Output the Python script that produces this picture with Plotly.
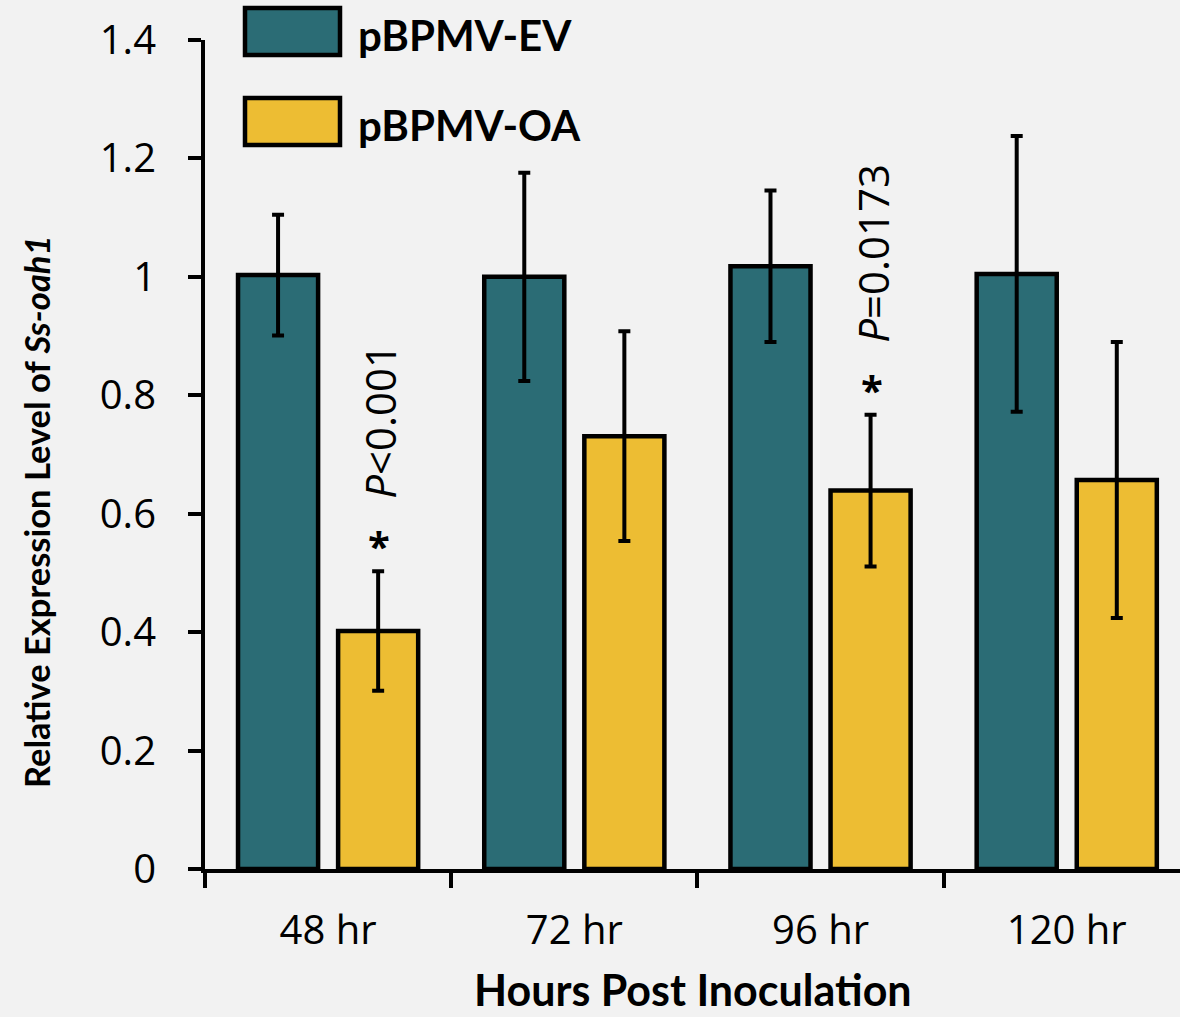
import plotly.graph_objects as go

categories = ["48 hr", "72 hr", "96 hr", "120 hr"]
ev_values = [1.003, 1.000, 1.018, 1.005]
ev_errors = [0.102, 0.176, 0.128, 0.233]
oa_values = [0.402, 0.731, 0.639, 0.657]
oa_errors = [0.101, 0.177, 0.128, 0.233]
series_names = ["pBPMV-EV", "pBPMV-OA"]
sig_labels = ["<i>P</i><0.001", None, "<i>P</i>=0.0173", None]
y_ticks = [0, 0.2, 0.4, 0.6, 0.8, 1.0, 1.2, 1.4]
y_ticktext = ["0", "0.2", "0.4", "0.6", "0.8", "1", "1.2", "1.4"]

TEAL = "#2B6C75"
YELLOW = "#EDBD33"
BG = "#F2F2F2"
TICKFONT = "Open Sans, sans-serif"
TITLEFONT = "Lato, Open Sans, sans-serif"

W, H = 1180, 1017
L, R, T, B = 205, 0, 40, 148
PW, PH = W - L - R, H - T - B


def px_x(px):
    return (px - L) / PW


def px_y(py):
    return (H - B - py) / PH


fig = go.Figure()
for name, vals, errs, col in [(series_names[0], ev_values, ev_errors, TEAL),
                              (series_names[1], oa_values, oa_errors, YELLOW)]:
    fig.add_trace(go.Bar(
        x=categories, y=vals, name=name,
        marker=dict(color=col, line=dict(color="black", width=4.5)),
        error_y=dict(type="data", array=errs, color="black", thickness=4, width=6),
        showlegend=False,
    ))

# significance annotations
for cat, v, e, lab in zip(categories, oa_values, oa_errors, sig_labels):
    if lab is None:
        continue
    fig.add_annotation(x=cat, y=v + e, xref="x", yref="y", text="<b>*</b>", showarrow=False,
                       xshift=51, yshift=-4, yanchor="bottom",
                       font=dict(size=40, color="black", family=TICKFONT))
    fig.add_annotation(x=cat, y=v + e, xref="x", yref="y", text=lab, showarrow=False, textangle=-90,
                       xshift=52, yshift=70, yanchor="bottom",
                       font=dict(size=42, color="black", family=TICKFONT))

# legend drawn manually
legend_cols = [TEAL, YELLOW]
for i, (name, col) in enumerate(zip(series_names, legend_cols)):
    top = 8 + i * 90
    fig.add_shape(type="rect", xref="paper", yref="paper",
                  x0=px_x(245), x1=px_x(340), y0=px_y(top + 47), y1=px_y(top),
                  fillcolor=col, line=dict(color="black", width=4.5), layer="above")
    fig.add_annotation(xref="paper", yref="paper", x=px_x(356), y=px_y(top + 27),
                       text=f"<b>{name}</b>", showarrow=False, xanchor="left", yanchor="middle",
                       font=dict(size=42, color="black", family=TITLEFONT))

# axis titles
fig.add_annotation(xref="paper", yref="paper", x=0.5, y=px_y(1016), showarrow=False,
                   text="<b>Hours Post Inoculation</b>", xanchor="center", yanchor="bottom",
                   borderpad=0,
                   font=dict(size=43, color="black", family=TITLEFONT))
fig.add_annotation(xref="paper", yref="paper", x=px_x(36), y=px_y(512), showarrow=False,
                   text="<b>Relative Expression Level of <i>Ss-oah1</i></b>", textangle=-90,
                   xanchor="center", yanchor="middle",
                   font=dict(size=34.5, color="black", family=TITLEFONT))

fig.update_layout(
    width=W, height=H,
    paper_bgcolor=BG, plot_bgcolor=BG,
    margin=dict(l=L, r=R, t=T, b=B),
    barmode="group", bargap=0.187, bargroupgap=0.2,
    font=dict(family=TICKFONT, color="black", size=40),
    xaxis=dict(
        type="category", range=[-0.5, 3.46], tickson="boundaries",
        showline=True, linecolor="black", linewidth=4,
        ticks="outside", ticklen=15, tickwidth=4, tickcolor="black",
        tickfont=dict(size=40, family=TICKFONT), showgrid=False,
        ticklabelstandoff=23,
    ),
    yaxis=dict(
        range=[0, 1.4], tickvals=y_ticks, ticktext=y_ticktext,
        showline=True, linecolor="black", linewidth=4,
        ticks="outside", ticklen=13, tickwidth=4, tickcolor="black",
        tickfont=dict(size=40, family=TICKFONT), showgrid=False, zeroline=False,
        ticklabelstandoff=24,
    ),
)

fig.write_html("out.html", config={"displayModeBar": False},
               post_script="document.body.style.margin='0';document.body.style.background='#F2F2F2';")
